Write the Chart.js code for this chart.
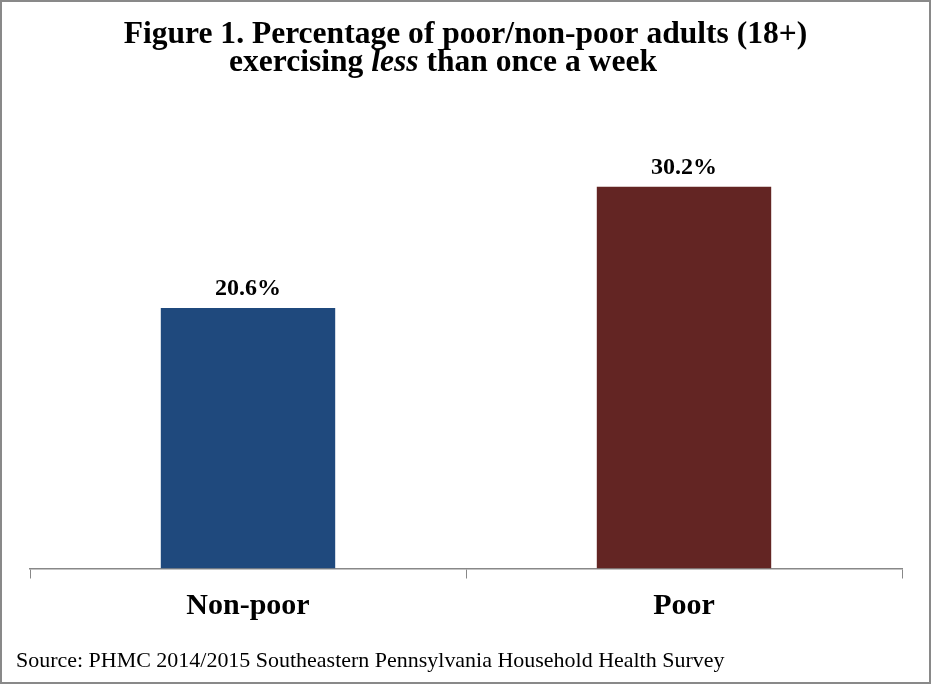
<!DOCTYPE html>
<html>
<head>
<meta charset="utf-8">
<title>Figure 1</title>
<script src="https://cdn.jsdelivr.net/npm/chart.js@4"></script>
<style>
    html, body { margin: 0; padding: 0; background: #fff; }
    canvas { display: block; }
</style>
</head>
<body>
<canvas id="exerciseChart" width="931" height="684"></canvas>
<script>
// 数据
const categories = ["Non-poor", "Poor"];
const percentValues = [20.6, 30.2];
const barColors = ["#1f497d", "#632523"];
const valueLabels = ["20.6%", "30.2%"];

const titleLine1 = "Figure 1. Percentage of poor/non-poor adults (18+)";
const titleLine2 = ["exercising ", "less", " than once a week"];
const sourceText = "Source: PHMC 2014/2015 Southeastern Pennsylvania Household Health Survey";

const FONT = "'Liberation Serif', 'DejaVu Serif', serif";

// 按目标宽度计算字号
function fitSize(ctx, text, weight, targetWidth) {
    ctx.font = `${weight} 100px ${FONT}`;
    return 100 * targetWidth / ctx.measureText(text).width;
}

// 标题、来源、边框和数值标签
const decorPlugin = {
    id: "decor",
    afterDatasetsDraw(chart) {
        const ctx = chart.ctx;
        ctx.save();
        ctx.fillStyle = "#000";
        ctx.textBaseline = "alphabetic";

        // 数值标签
        ctx.font = `bold 24px ${FONT}`;
        ctx.textAlign = "center";
        chart.getDatasetMeta(0).data.forEach((bar, i) => {
            ctx.fillText(valueLabels[i], bar.x, bar.y - 13);
        });

        // 标题第一行
        const size = fitSize(ctx, titleLine1, "bold", 684);
        ctx.font = `bold ${size}px ${FONT}`;
        ctx.fillText(titleLine1, 465.5, 43);

        // 标题第二行 (less 为斜体)
        ctx.textAlign = "left";
        const fonts = [`bold ${size}px ${FONT}`, `italic bold ${size}px ${FONT}`, `bold ${size}px ${FONT}`];
        let total = 0;
        const widths = titleLine2.map((part, i) => {
            ctx.font = fonts[i];
            const w = ctx.measureText(part).width;
            total += w;
            return w;
        });
        let x = 443 - total / 2;
        titleLine2.forEach((part, i) => {
            ctx.font = fonts[i];
            ctx.fillText(part, x, 71);
            x += widths[i];
        });

        // 来源
        const srcSize = fitSize(ctx, sourceText, "normal", 709);
        ctx.font = `normal ${srcSize}px ${FONT}`;
        ctx.fillText(sourceText, 16, 667);

        // 外边框
        ctx.strokeStyle = "#898989";
        ctx.lineWidth = 2;
        ctx.strokeRect(1, 1, 929, 682);
        ctx.restore();
    }
};

new Chart(document.getElementById("exerciseChart"), {
    type: "bar",
    data: {
        labels: categories,
        datasets: [{
            data: percentValues,
            backgroundColor: barColors,
            borderWidth: 0,
            categoryPercentage: 0.8,
            barPercentage: 0.5
        }]
    },
    options: {
        responsive: false,
        animation: false,
        devicePixelRatio: 1,
        layout: {
            padding: { top: 126, left: 30, right: 29, bottom: 50.5 }
        },
        plugins: {
            legend: { display: false },
            tooltip: { enabled: false }
        },
        scales: {
            y: {
                display: false,
                min: 0,
                max: 35
            },
            x: {
                grid: {
                    drawOnChartArea: false,
                    color: "#888",
                    tickLength: 10,
                    offset: true
                },
                border: {
                    color: "#888",
                    width: 1.5
                },
                ticks: {
                    color: "#000",
                    padding: 9.5,
                    font: { family: FONT, size: 30, weight: "bold" }
                }
            }
        }
    },
    plugins: [decorPlugin]
});
</script>
</body>
</html>
